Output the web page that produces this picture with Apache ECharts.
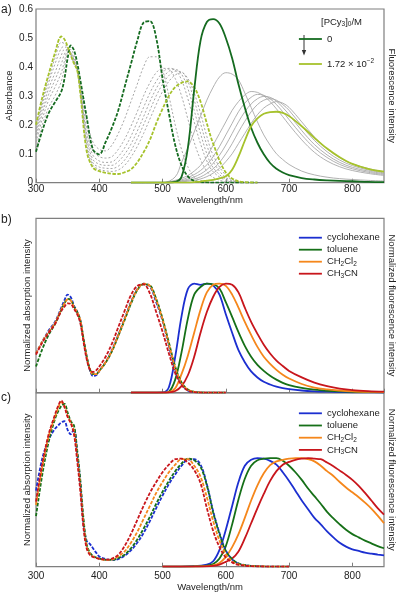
<!DOCTYPE html>
<html><head><meta charset="utf-8">
<script src="https://cdn.jsdelivr.net/npm/echarts@6/dist/echarts.min.js"></script>
<style>html,body{margin:0;padding:0;background:#fff}#c{width:400px;height:596px}</style>
</head><body><div id="c"></div>
<script>
// ---------- Panel a: absorption (dashed, left axis) ----------
const wlAbsA = [300,310,320,330,340,345,350,355,360,365,370,380,390,400,410,420,430,440,450,460,470,480,490,500,510,520,530,540,550,560,570,580,600,620,650];
const absA_0   = [.107,.18,.24,.278,.315,.36,.43,.474,.458,.415,.355,.228,.115,.098,.14,.19,.25,.33,.41,.49,.553,.558,.50,.36,.24,.13,.06,.022,.006,.002,.001,0,0,0,0];
const absA_m1  = [.12,.2,.26,.3,.35,.4,.45,.46,.44,.4,.34,.22,.14,.115,.11,.13,.17,.22,.28,.34,.4,.435,.435,.39,.30,.20,.115,.055,.02,.008,.003,.001,0,0,0];
const absA_m2  = [.14,.22,.285,.33,.38,.42,.455,.45,.43,.40,.33,.19,.11,.09,.085,.09,.115,.15,.195,.245,.30,.345,.38,.395,.392,.36,.30,.22,.14,.08,.04,.018,.003,0,0];
const absA_m3  = [.155,.24,.305,.355,.41,.445,.46,.45,.425,.395,.325,.17,.095,.075,.07,.072,.09,.12,.16,.21,.26,.31,.35,.38,.395,.39,.355,.29,.21,.135,.075,.038,.008,.001,0];
const absA_m4  = [.165,.255,.325,.38,.44,.46,.46,.445,.42,.39,.32,.155,.08,.064,.06,.06,.073,.098,.133,.178,.228,.28,.325,.36,.385,.392,.375,.325,.25,.17,.10,.052,.012,.002,0];
const absA_m5  = [.175,.27,.345,.41,.465,.47,.46,.44,.415,.39,.315,.14,.068,.054,.05,.049,.057,.078,.11,.152,.2,.25,.3,.34,.37,.385,.383,.35,.285,.205,.13,.072,.018,.003,0];
const absA_m6  = [.185,.283,.36,.43,.485,.48,.465,.44,.413,.388,.31,.125,.06,.046,.041,.039,.044,.06,.088,.125,.17,.22,.27,.315,.35,.372,.38,.36,.31,.24,.16,.095,.026,.004,0];
const absA_end = [.20,.295,.375,.448,.505,.495,.47,.44,.412,.39,.31,.11,.052,.04,.034,.031,.03,.036,.046,.07,.105,.148,.205,.255,.30,.33,.345,.35,.33,.28,.205,.135,.035,.005,0];

// ---------- Panel a: fluorescence (solid, right axis) ----------
const wlFlA = [450,500,520,530,540,550,560,570,580,590,600,610,620,630,640,650,660,670,680,690,700,720,740,760,780,800,825,850];
const flA_0   = [0,0,.003,.02,.12,.32,.49,.555,.565,.55,.5,.43,.34,.26,.19,.138,.098,.068,.048,.035,.026,.016,.011,.008,.006,.005,.003,.002];
const flA_m1  = [0,0,.02,.07,.12,.175,.23,.285,.33,.365,.38,.375,.355,.31,.26,.21,.165,.13,.1,.08,.063,.04,.027,.019,.014,.011,.008,.006];
const flA_m2  = [0,0,.008,.015,.025,.04,.06,.09,.13,.17,.21,.25,.28,.303,.315,.312,.3,.28,.255,.228,.2,.148,.105,.075,.055,.042,.032,.025];
const flA_m3  = [0,0,.005,.01,.018,.028,.042,.062,.09,.125,.165,.205,.245,.275,.295,.305,.302,.29,.27,.245,.218,.165,.12,.087,.063,.048,.036,.028];
const flA_m4  = [0,0,.004,.007,.012,.02,.03,.045,.067,.095,.13,.17,.21,.245,.272,.29,.298,.295,.282,.26,.235,.18,.132,.096,.07,.053,.04,.031];
const flA_m5  = [0,0,.003,.005,.008,.013,.02,.032,.048,.07,.1,.135,.175,.212,.245,.27,.285,.29,.285,.27,.25,.196,.146,.107,.078,.059,.044,.034];
const flA_m6  = [0,0,.002,.003,.005,.008,.013,.021,.033,.05,.073,.1,.135,.17,.205,.235,.258,.272,.28,.275,.26,.21,.158,.117,.086,.065,.049,.038];
const flA_end = [0,0,0,0,0,.002,.004,.007,.01,.015,.022,.045,.09,.145,.195,.222,.238,.244,.245,.241,.23,.195,.155,.118,.088,.065,.048,.038];
const concLabels = ['0', '1.72 × 10−2'];

// ---------- Panel b ----------
const solvents = ['cyclohexane','toluene','CH2Cl2','CH3CN'];
const wlAbsB = [300,310,320,330,340,345,350,355,360,365,370,375,380,385,390,395,400,410,420,430,440,450,460,470,480,490,500,510,520,530,540,550,560,580,600];
const absB_cyc  = [.36,.47,.57,.65,.78,.85,.9,.875,.8,.745,.665,.49,.33,.21,.155,.16,.2,.28,.39,.53,.68,.83,.95,1,.975,.83,.66,.43,.21,.08,.02,.006,.002,0,0];
const absB_tol  = [.24,.40,.53,.63,.76,.82,.86,.85,.79,.74,.665,.5,.34,.22,.17,.17,.2,.275,.38,.52,.665,.815,.94,.995,.985,.86,.68,.46,.24,.095,.03,.008,.002,0,0];
const absB_dcm  = [.36,.47,.56,.64,.765,.82,.855,.845,.785,.74,.665,.49,.33,.215,.17,.17,.2,.28,.385,.525,.675,.825,.945,1.0,.98,.85,.67,.445,.23,.09,.028,.008,.002,0,0];
const absB_mecn = [.35,.46,.55,.63,.75,.79,.82,.815,.77,.72,.64,.47,.31,.215,.19,.205,.24,.33,.45,.6,.75,.895,.98,.995,.91,.74,.56,.36,.18,.07,.02,.005,.001,0,0];
const wlFlB = [450,500,510,520,530,540,550,560,570,580,590,600,610,620,630,640,650,660,670,680,690,700,720,740,760,780,800,825,850];
const flB_cyc  = [0,.003,.05,.33,.7,.95,1.0,.99,1.0,.985,.9,.72,.55,.39,.28,.195,.14,.1,.075,.055,.041,.032,.02,.013,.009,.006,.004,.003,.002];
const flB_tol  = [0,0,.01,.12,.37,.68,.9,.97,1.0,.995,.955,.83,.695,.555,.43,.33,.255,.2,.155,.12,.09,.07,.045,.028,.018,.012,.008,.005,.004];
const flB_dcm  = [0,0,.005,.04,.17,.34,.55,.76,.92,.99,1.0,.98,.9,.78,.65,.53,.42,.33,.265,.21,.165,.13,.08,.046,.03,.02,.013,.008,.005];
const flB_mecn = [0,0,.002,.015,.06,.16,.33,.55,.74,.88,.97,1.0,.99,.92,.78,.65,.54,.44,.36,.295,.245,.2,.14,.092,.06,.038,.024,.015,.01];

// ---------- Panel c ----------
const wlAbsC = [300,310,320,330,335,340,345,350,355,360,365,370,375,380,385,390,395,400,410,420,430,440,450,460,470,480,490,500,510,520,530,540,550,560,570,580,590,600,610,620,640,670,700];
const absC_cyc  = [.70,1.0,1.17,1.27,1.30,1.33,1.34,1.26,1.22,1.27,1.05,.78,.40,.24,.21,.17,.13,.095,.07,.062,.07,.10,.15,.22,.31,.42,.54,.655,.76,.85,.93,.985,.99,.94,.76,.51,.31,.15,.068,.028,.007,.001,0];
const absC_tol  = [.465,.85,1.15,1.36,1.43,1.48,1.50,1.42,1.34,1.30,1.08,.80,.45,.21,.13,.10,.085,.075,.063,.062,.08,.11,.17,.25,.35,.46,.58,.69,.79,.88,.95,.995,.98,.92,.75,.50,.30,.145,.07,.03,.008,.001,0];
const absC_dcm  = [.57,.92,1.2,1.38,1.46,1.515,1.48,1.39,1.33,1.25,1.02,.74,.40,.19,.12,.095,.082,.072,.063,.066,.095,.14,.22,.32,.44,.56,.68,.78,.87,.94,.99,.99,.93,.83,.64,.42,.24,.115,.05,.022,.006,.001,0];
const absC_mecn = [.60,.95,1.22,1.40,1.48,1.53,1.47,1.38,1.32,1.22,.98,.70,.36,.17,.11,.09,.08,.072,.065,.075,.11,.19,.30,.43,.56,.68,.78,.87,.94,.99,.995,.96,.89,.77,.54,.33,.18,.085,.04,.018,.005,.001,0];
const wlFlC = [500,550,570,580,590,600,610,620,630,640,650,660,670,680,690,700,710,720,730,740,750,760,770,780,790,800,810,820,830,840,850];
const flC_cyc  = [0,.005,.02,.05,.155,.34,.56,.78,.93,.985,1.0,.995,.975,.94,.87,.79,.70,.61,.53,.45,.39,.325,.27,.22,.185,.16,.145,.13,.12,.112,.105];
const flC_tol  = [0,.003,.01,.025,.075,.19,.39,.62,.81,.93,.98,.995,1.0,1.0,.975,.93,.87,.80,.72,.65,.58,.505,.445,.39,.34,.30,.27,.24,.215,.19,.17];
const flC_dcm  = [0,.002,.005,.012,.035,.09,.18,.3,.45,.61,.75,.86,.935,.97,.985,.995,1.0,1.0,.99,.97,.93,.88,.835,.78,.73,.685,.64,.59,.535,.47,.40];
const flC_mecn = [0,.001,.003,.008,.02,.045,.075,.14,.26,.40,.54,.67,.79,.88,.94,.965,.985,.995,1.0,.995,.99,.96,.925,.885,.845,.80,.745,.68,.61,.54,.48];

const xTicks = [300,400,500,600,700,800];
const yTicksA = [0,0.1,0.2,0.3,0.4,0.5,0.6];

// ---------- styling ----------
const FONT = 'Liberation Sans, Arial, Helvetica, sans-serif';
const TXT = '#222';
const FRAME = '#7f7f7f';
const DG = '#156b20', YG = '#a6c22c', GRAYD = '#9c9c9c', GRAYS = '#a8a8a8';
const SOLV_COL = ['#1c2fd0', '#167018', '#f5871c', '#c8161c'];
const COLDASH = [3.5, 1.5], GRAYDASH = [2, 2];

function line(name, xi, yi, wl, vals, color, width, type, z) {
  return {
    type: 'line', name, xAxisIndex: xi, yAxisIndex: yi,
    data: wl.map((w, i) => [w, vals[i]]),
    symbol: 'none', showSymbol: false, smooth: 0.35,
    lineStyle: { color, width, type }, itemStyle: { color },
    z, silent: true, animation: false
  };
}

const series = [];
[absA_m1, absA_m2, absA_m3, absA_m4, absA_m5, absA_m6].forEach((v, i) =>
  series.push(line('absA-mid' + i, 0, 0, wlAbsA, v, GRAYD, 0.9, GRAYDASH, 2)));
[flA_m1, flA_m2, flA_m3, flA_m4, flA_m5, flA_m6].forEach((v, i) =>
  series.push(line('flA-mid' + i, 0, 1, wlFlA, v, GRAYS, 0.9, 'solid', 2)));
series.push(line(concLabels[0], 0, 1, wlFlA, flA_0, DG, 1.8, 'solid', 4));
series.push(line(concLabels[1], 0, 1, wlFlA, flA_end, YG, 1.8, 'solid', 4));
series.push(line('absA-0', 0, 0, wlAbsA, absA_0, DG, 1.8, COLDASH, 3));
series.push(line('absA-end', 0, 0, wlAbsA, absA_end, YG, 1.8, COLDASH, 3));

const flB = [flB_cyc, flB_tol, flB_dcm, flB_mecn];
const absB = [absB_cyc, absB_tol, absB_dcm, absB_mecn];
const flC = [flC_cyc, flC_tol, flC_dcm, flC_mecn];
const absC = [absC_cyc, absC_tol, absC_dcm, absC_mecn];
solvents.forEach((s, i) => series.push(line(s, 1, 3, wlFlB, flB[i], SOLV_COL[i], 1.8, 'solid', 3)));
solvents.forEach((s, i) => series.push(line(s + ' absB', 1, 2, wlAbsB, absB[i], SOLV_COL[i], 1.8, COLDASH, 3)));
solvents.forEach((s, i) => series.push(line(s + ' flC', 2, 5, wlFlC, flC[i], SOLV_COL[i], 1.8, 'solid', 3)));
solvents.forEach((s, i) => series.push(line(s + ' absC', 2, 4, wlAbsC, absC[i], SOLV_COL[i], 1.8, COLDASH, 3)));

const grids = [
  { left: 36, top: 9, width: 348, height: 173.7 },
  { left: 36, top: 218.3, width: 348, height: 174.4 },
  { left: 36, top: 393, width: 348, height: 173.7 }
].map(g => Object.assign(g, { show: true, borderColor: FRAME, borderWidth: 1.2, containLabel: false, outerBoundsMode: 'none' }));

function xAx(gi, showLabel, margin, nameGap) {
  return {
    type: 'value', gridIndex: gi, min: 300, max: 850, interval: 100,
    axisLine: { show: false }, splitLine: { show: false },
    axisTick: { show: true, inside: true, length: 4, lineStyle: { color: FRAME, width: 1 } },
    axisLabel: { show: showLabel, fontSize: 10, color: TXT, fontFamily: FONT, margin,
      showMaxLabel: false, formatter: v => xTicks.includes(v) ? String(v) : '' },
    name: showLabel ? 'Wavelength/nm' : '', nameLocation: 'middle', nameGap,
    nameTextStyle: { fontSize: 9.5, color: TXT, fontFamily: FONT }
  };
}
function yAx(gi, pos, max, name, gap, labels) {
  return {
    type: 'value', gridIndex: gi, position: pos, min: 0, max,
    interval: labels ? 0.1 : null,
    axisLine: { show: false }, splitLine: { show: false }, axisTick: { show: false },
    axisLabel: { show: !!labels, fontSize: 10, color: TXT, fontFamily: FONT, margin: 3,
      formatter: v => yTicksA.some(t => Math.abs(t - v) < 1e-9) ? String(+v.toFixed(1)) : '' },
    name, nameLocation: 'middle', nameGap: gap, nameRotate: pos === 'right' ? -90 : 90,
    nameMoveOverlap: false,
    nameTextStyle: { fontSize: 9.5, color: TXT, fontFamily: FONT }
  };
}

const subRich = {
  s: { fontSize: 6.5, fontFamily: FONT, color: TXT, verticalAlign: 'bottom', lineHeight: 12 },
  sup: { fontSize: 6.5, fontFamily: FONT, color: TXT, verticalAlign: 'top', lineHeight: 12 }
};
function solvFmt(n) {
  if (n === 'CH2Cl2') return 'CH{s|2}Cl{s|2}';
  if (n === 'CH3CN') return 'CH{s|3}CN';
  return n;
}
function legend(top, gap, data, fmt) {
  return {
    orient: 'vertical', left: 293, top, itemWidth: 23, itemHeight: 12, itemGap: gap,
    selectedMode: false, data: data.slice(),
    formatter: fmt,
    itemStyle: { opacity: 0 },
    lineStyle: { type: 'solid', width: 1.8 },
    textStyle: { fontSize: 9.5, color: TXT, fontFamily: FONT, lineHeight: 12, rich: subRich }
  };
}

const option = {
  animation: false,
  textStyle: { fontFamily: FONT },
  grid: grids,
  xAxis: [xAx(0, true, 2, 10), xAx(1, false, 2, 10), xAx(2, true, 4.5, 15)],
  yAxis: [
    yAx(0, 'left', 0.6, 'Absorbance', 22, true),
    yAx(0, 'right', 0.6, 'Fluorescence intensity', 3, false),
    yAx(1, 'left', 1.6, 'Normalized absorption intensity', 4, false),
    yAx(1, 'right', 1.6, 'Normalized fluorescence intensity', 3, false),
    yAx(2, 'left', 1.6, 'Normalized absorption intensity', 4, false),
    yAx(2, 'right', 1.6, 'Normalized fluorescence intensity', 3, false)
  ],
  legend: [
    legend(28, 13, concLabels, n => n === concLabels[1] ? '1.72 × 10{sup|−2}' : n),
    legend(226.7, 0, solvents, solvFmt),
    legend(402.3, 0.2, solvents, solvFmt)
  ],
  graphic: [
    { type: 'text', left: 1, top: 4, style: { text: 'a)', fontSize: 12, fill: TXT, fontFamily: FONT } },
    { type: 'text', left: 1, top: 214, style: { text: 'b)', fontSize: 12, fill: TXT, fontFamily: FONT } },
    { type: 'text', left: 1, top: 392, style: { text: 'c)', fontSize: 12, fill: TXT, fontFamily: FONT } },
    { type: 'text', left: 321, top: 17, style: { text: '[PCy{s|3}]{s|0}/M', fontSize: 9.5, fill: TXT, fontFamily: FONT, rich: subRich } },
    { type: 'line', shape: { x1: 304, y1: 35, x2: 304, y2: 51 }, style: { stroke: '#333', lineWidth: 1 } },
    { type: 'polygon', shape: { points: [[301.8, 50], [306.2, 50], [304, 55.5]] }, style: { fill: '#333' } }
  ],
  series
};
const chart = echarts.init(document.getElementById('c'), null, { renderer: 'canvas' });
chart.setOption(option);
</script></body></html>
